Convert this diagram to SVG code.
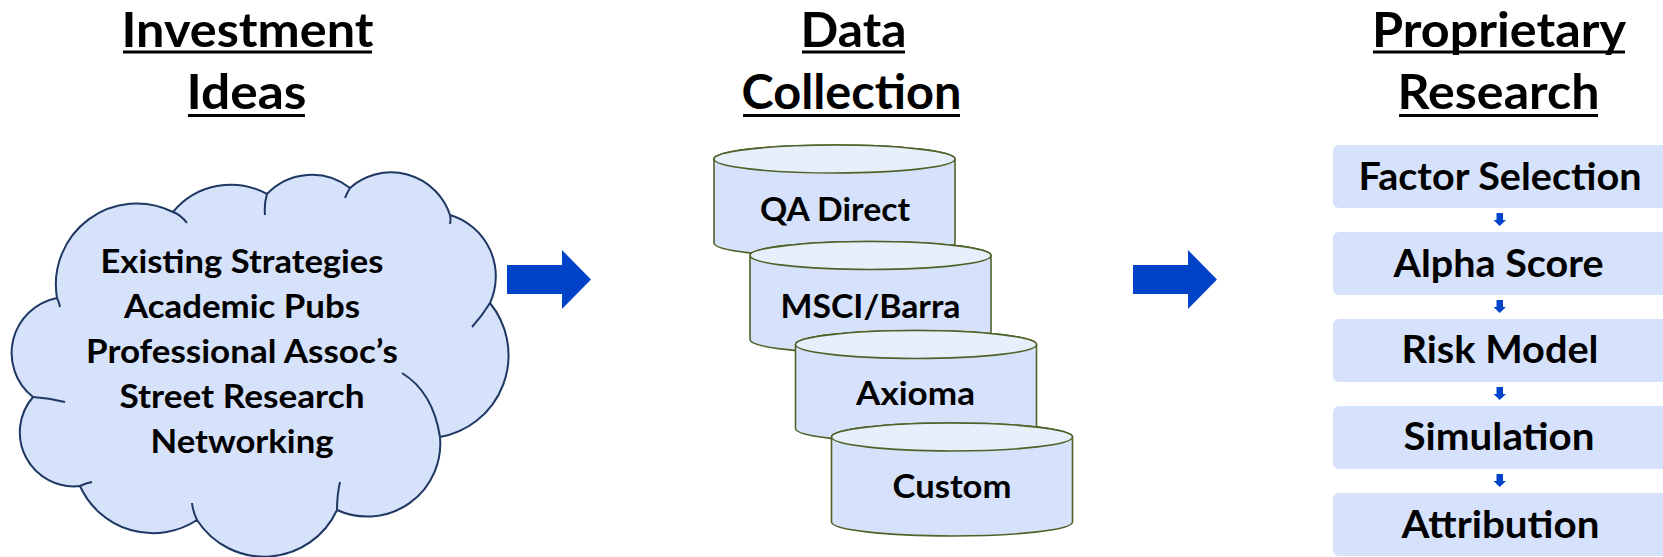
<svg xmlns="http://www.w3.org/2000/svg" width="1663" height="557" viewBox="0 0 1663 557">
<style>
text{font-family:Lato,"Open Sans","Liberation Sans",sans-serif;font-weight:bold;fill:#000;text-anchor:middle}
.title{font-size:47px}
.cl{font-size:33px}
.cy{font-size:33px}
.bx{font-size:38px}
.ul{stroke:#000;stroke-width:3}
.cloud{fill:#d6e2fa;stroke:#1f3763;stroke-width:2}
.tail{fill:none;stroke:#1f3763;stroke-width:2}
.cbody{fill:#d6e2fb;stroke:#4f6228;stroke-width:1.6}
.ctop{fill:#e7eefc;stroke:#4f6228;stroke-width:1.6}
.box{fill:#d6e2fb}
.big{fill:#0043c8}
.small{fill:#0044cc}
</style>
<rect width="1663" height="557" fill="#fff"/>
<g id="titles">
<text class="title" x="247.5" y="47" textLength="252" lengthAdjust="spacingAndGlyphs">Investment</text>
<text class="title" x="246.5" y="108.5" textLength="120" lengthAdjust="spacingAndGlyphs">Ideas</text>
<line class="ul" x1="123" y1="52" x2="372" y2="52"/>
<line class="ul" x1="188" y1="115.5" x2="305" y2="115.5"/>
<text class="title" x="853.5" y="47" textLength="106" lengthAdjust="spacingAndGlyphs">Data</text>
<text class="title" x="851.5" y="108.5" textLength="220" lengthAdjust="spacingAndGlyphs">Collection</text>
<line class="ul" x1="802" y1="52" x2="905" y2="52"/>
<line class="ul" x1="743" y1="115.5" x2="960" y2="115.5"/>
<text class="title" x="1499" y="47" textLength="254" lengthAdjust="spacingAndGlyphs">Proprietary</text>
<text class="title" x="1498.5" y="108.5" textLength="202" lengthAdjust="spacingAndGlyphs">Research</text>
<line class="ul" x1="1373" y1="52" x2="1625" y2="52"/>
<line class="ul" x1="1399" y1="115.5" x2="1598" y2="115.5"/>
</g>
<g id="cloud">
<path class="cloud" d="M173,212 A75,75 0 0 1 267,194 A62,62 0 0 1 350,188 A62,62 0 0 1 450,215 A64,64 0 0 1 490,303 A83,83 0 0 1 440,437 A73,73 0 0 1 337,510 A80,80 0 0 1 197,520 A80,80 0 0 1 80,486 A54,54 0 0 1 33,397 A56,56 0 0 1 57,298 A81,81 0 0 1 173,212 Z"/>
<path class="tail" d="M173,212 Q181,215 187,223 M267,194 Q264,204 265,215 M350,188 Q347,193 345,198 M450,215 Q451,219 450,224 M490,303 Q482,316 472,327 M440,437 Q433,392 402,373 M337,510 Q337,495 340,482 M197,520 Q193,512 192,503 M80,486 Q86,483 92,482 M33,397 Q49,398 65,402 M57,298 Q59,302 60,307"/>
<text class="cl" x="242" y="273" textLength="283" lengthAdjust="spacingAndGlyphs">Existing Strategies</text>
<text class="cl" x="242" y="318" textLength="236" lengthAdjust="spacingAndGlyphs">Academic Pubs</text>
<text class="cl" x="242" y="363" textLength="312" lengthAdjust="spacingAndGlyphs">Professional Assoc’s</text>
<text class="cl" x="242" y="408" textLength="245" lengthAdjust="spacingAndGlyphs">Street Research</text>
<text class="cl" x="242" y="453" textLength="183" lengthAdjust="spacingAndGlyphs">Networking</text>
</g>
<g id="connectors">
<path class="big" d="M507,265 H562 V250 L591,279.5 L562,309 V294 H507 Z"/>
<path class="big" d="M1133,265 H1188 V250 L1217,279.5 L1188,309 V294 H1133 Z"/>
<path class="small" d="M1496.5,213 H1503 V220 H1506 L1499.7,226 L1493.5,220 H1496.5 Z"/>
<path class="small" d="M1496.5,300 H1503 V307 H1506 L1499.7,313 L1493.5,307 H1496.5 Z"/>
<path class="small" d="M1496.5,387 H1503 V394 H1506 L1499.7,400 L1493.5,394 H1496.5 Z"/>
<path class="small" d="M1496.5,474 H1503 V481 H1506 L1499.7,487 L1493.5,481 H1496.5 Z"/>
</g>
<g id="cyl-qa">
<path class="cbody" d="M714,159 V243 A120.5,14 0 0 0 955,243 V159 A120.5,14 0 0 0 714,159 Z"/>
<ellipse class="ctop" cx="834.5" cy="159" rx="120.5" ry="14"/>
<text class="cy" x="835" y="220.5" textLength="150" lengthAdjust="spacingAndGlyphs">QA Direct</text>
</g>
<g id="cyl-msci">
<path class="cbody" d="M750,255.5 V339.5 A120.5,14 0 0 0 991,339.5 V255.5 A120.5,14 0 0 0 750,255.5 Z"/>
<ellipse class="ctop" cx="870.5" cy="255.5" rx="120.5" ry="14"/>
<text class="cy" x="870.5" y="317.5" textLength="180" lengthAdjust="spacingAndGlyphs">MSCI/Barra</text>
</g>
<g id="cyl-axioma">
<path class="cbody" d="M795.5,344.5 V428.5 A120.5,14 0 0 0 1036.5,428.5 V344.5 A120.5,14 0 0 0 795.5,344.5 Z"/>
<ellipse class="ctop" cx="916" cy="344.5" rx="120.5" ry="14"/>
<text class="cy" x="915.5" y="405.3" textLength="119" lengthAdjust="spacingAndGlyphs">Axioma</text>
</g>
<g id="cyl-custom">
<path class="cbody" d="M831.5,437 V522 A120.5,14 0 0 0 1072.5,522 V437 A120.5,14 0 0 0 831.5,437 Z"/>
<ellipse class="ctop" cx="952" cy="437" rx="120.5" ry="14"/>
<text class="cy" x="952" y="498.3" textLength="119" lengthAdjust="spacingAndGlyphs">Custom</text>
</g>
<g id="box-factor">
<rect class="box" x="1333" y="145" width="340" height="63" rx="6"/>
<text class="bx" x="1500" y="190" textLength="283" lengthAdjust="spacingAndGlyphs">Factor Selection</text>
</g>
<g id="box-alpha">
<rect class="box" x="1333" y="232" width="340" height="63" rx="6"/>
<text class="bx" x="1498.5" y="276.7" textLength="210" lengthAdjust="spacingAndGlyphs">Alpha Score</text>
</g>
<g id="box-risk">
<rect class="box" x="1333" y="319" width="340" height="63" rx="6"/>
<text class="bx" x="1500" y="363.3" textLength="197" lengthAdjust="spacingAndGlyphs">Risk Model</text>
</g>
<g id="box-sim">
<rect class="box" x="1333" y="406" width="340" height="63" rx="6"/>
<text class="bx" x="1499" y="450" textLength="191" lengthAdjust="spacingAndGlyphs">Simulation</text>
</g>
<g id="box-attr">
<rect class="box" x="1333" y="493" width="340" height="63" rx="6"/>
<text class="bx" x="1500.5" y="537.7" textLength="198" lengthAdjust="spacingAndGlyphs">Attribution</text>
</g>
</svg>
